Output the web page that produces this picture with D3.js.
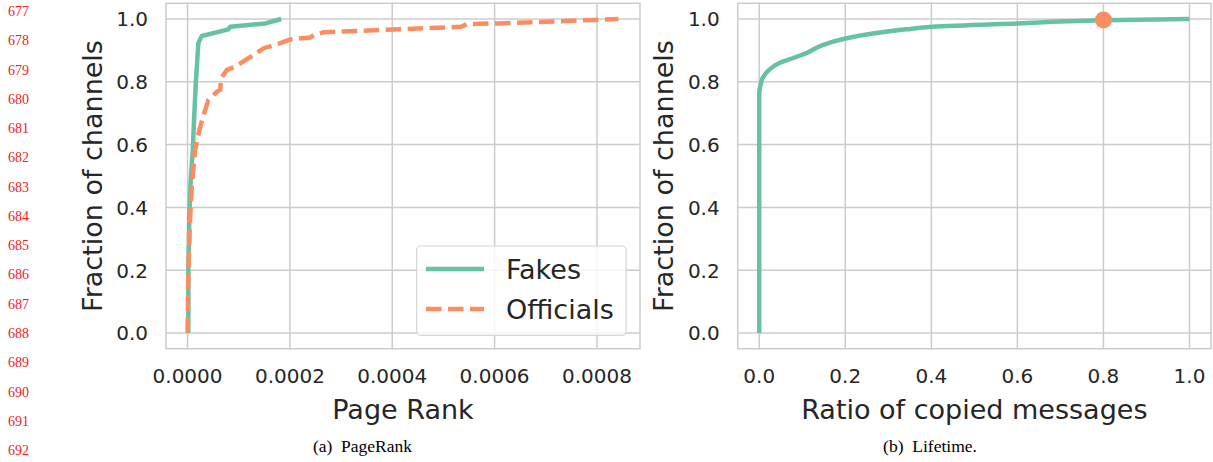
<!DOCTYPE html>
<html>
<head>
<meta charset="utf-8">
<script src="https://cdn.jsdelivr.net/npm/d3@7"></script>
<style>
  html, body { margin: 0; padding: 0; background: #ffffff; }
  svg { display: block; }
</style>
</head>
<body>
<svg id="chart" width="1213" height="462"></svg>
<script>
// ---------- DATA ----------
const seriesNames = ["Fakes", "Officials"];

// (a) PageRank CDF
const fakesPageRank = [0.0000016, 0.0000016, 0.0000035, 0.0000055, 0.0000102, 0.0000127, 0.0000161, 0.0000212, 0.0000278, 0.00008, 0.0000833, 0.000152, 0.000183];
const fakesFraction = [0, 0.2, 0.37, 0.466, 0.583, 0.678, 0.796, 0.924, 0.946, 0.967, 0.975, 0.986, 1.0];

const officialsPageRank = [0, 0.0000016, 0.0000049, 0.0000082, 0.0000147, 0.0000231, 0.0000343, 0.0000408, 0.0000573, 0.0000637, 0.0000657, 0.0000769, 0.0000931, 0.000119, 0.000149, 0.000181, 0.000201, 0.00024, 0.000247, 0.000266, 0.000534, 0.000547, 0.000606, 0.000796, 0.000842];
const officialsFraction = [0, 0.2, 0.36, 0.466, 0.583, 0.646, 0.71, 0.742, 0.768, 0.774, 0.811, 0.838, 0.848, 0.875, 0.907, 0.923, 0.935, 0.941, 0.949, 0.958, 0.975, 0.984, 0.986, 0.997, 1.0];

// (b) Ratio of copied messages CDF
const copiedRatio    = [0, 0, 0.004, 0.0077, 0.023, 0.047, 0.077, 0.109, 0.147, 0.2, 0.264, 0.341, 0.403, 0.6, 0.8, 1.0];
const copiedFraction = [0, 0.763, 0.795, 0.811, 0.838, 0.86, 0.875, 0.891, 0.917, 0.938, 0.954, 0.967, 0.975, 0.986, 0.996, 1.0];

const markerPoint = { x: 0.8, y: 0.997 };

const yTicks = [0, 0.2, 0.4, 0.6, 0.8, 1.0];
const xTicksPR = [0, 0.0002, 0.0004, 0.0006, 0.0008];
const xTicksRatio = [0, 0.2, 0.4, 0.6, 0.8, 1.0];

const lineNumbers = d3.range(677, 693);
const captions = ["(a)\u2002PageRank", "(b)\u2002Lifetime."];

// ---------- STYLE ----------
const GREEN = "#66c2a5", ORANGE = "#fc8d62";
const GRID = "#cccccc", TEXT = "#262626";
const SANS = "'DejaVu Sans', sans-serif";
const SERIF = "'Liberation Serif', 'Times New Roman', serif";
const LW = 4.5, DASH = "15.5,6.5";

const svg = d3.select("#chart");

const plotTop = 3.3, plotBottom = 348.7;
const panels = [
  { left: 166, right: 640 },
  { left: 737.7, right: 1211 }
];

function pad(lo, hi) { const r = hi - lo; return [lo - 0.05 * r, hi + 0.05 * r]; }

const yScale = d3.scaleLinear().domain(pad(0, 1)).range([plotBottom, plotTop]);

const prMax = d3.max(officialsPageRank.concat(fakesPageRank));
const xPR = d3.scaleLinear().domain(pad(0, prMax)).range([panels[0].left, panels[0].right]);
const xRatio = d3.scaleLinear().domain(pad(0, 1)).range([panels[1].left, panels[1].right]);

function drawPanel(x, ticksX, fmtX, xLabel, labelX) {
  const p = { left: x.range()[0], right: x.range()[1] };
  const g = svg.append("g");
  g.selectAll(".vg").data(ticksX).enter().append("line")
    .attr("x1", d => x(d)).attr("x2", d => x(d))
    .attr("y1", plotTop).attr("y2", plotBottom)
    .attr("stroke", GRID).attr("stroke-width", 1.5);
  g.selectAll(".hg").data(yTicks).enter().append("line")
    .attr("x1", p.left).attr("x2", p.right)
    .attr("y1", d => yScale(d)).attr("y2", d => yScale(d))
    .attr("stroke", GRID).attr("stroke-width", 1.5);
  g.append("rect").attr("x", p.left).attr("y", plotTop)
    .attr("width", p.right - p.left).attr("height", plotBottom - plotTop)
    .attr("fill", "none").attr("stroke", GRID).attr("stroke-width", 1.5);
  g.selectAll(".yt").data(yTicks).enter().append("text")
    .attr("x", p.left - 18).attr("y", d => yScale(d) + 7.3)
    .attr("text-anchor", "end").attr("font-family", SANS).attr("font-size", 20)
    .attr("fill", TEXT).text(d => d3.format(".1f")(d));
  g.selectAll(".xt").data(ticksX).enter().append("text")
    .attr("x", d => x(d)).attr("y", 383)
    .attr("text-anchor", "middle").attr("font-family", SANS).attr("font-size", 20)
    .attr("fill", TEXT).text(d => fmtX(d));
  g.append("text").attr("x", (p.left + p.right) / 2).attr("y", 419)
    .attr("text-anchor", "middle").attr("font-family", SANS).attr("font-size", 27)
    .attr("fill", TEXT).text(xLabel);
  g.append("text")
    .attr("transform", `translate(${labelX},${(plotTop + plotBottom) / 2}) rotate(-90)`)
    .attr("text-anchor", "middle").attr("font-family", SANS).attr("font-size", 27)
    .attr("fill", TEXT).text("Fraction of channels");
  return g;
}

const gA = drawPanel(xPR, xTicksPR, d3.format(".4f"), "Page Rank", 101.5);
const gB = drawPanel(xRatio, xTicksRatio, d3.format(".1f"), "Ratio of copied messages", 673);

const lineA = d3.line().x(d => xPR(d[0])).y(d => yScale(d[1]));
gA.append("path").datum(d3.zip(fakesPageRank, fakesFraction))
  .attr("d", lineA).attr("fill", "none").attr("stroke", GREEN)
  .attr("stroke-width", LW).attr("stroke-linejoin", "round");
gA.append("path").datum(d3.zip(officialsPageRank, officialsFraction))
  .attr("d", lineA).attr("fill", "none").attr("stroke", ORANGE)
  .attr("stroke-width", LW).attr("stroke-dasharray", DASH);

const leg = gA.append("g");
leg.append("rect").attr("x", 416.7).attr("y", 246).attr("width", 209.3).attr("height", 89.3)
  .attr("rx", 4).attr("fill", "#ffffff").attr("fill-opacity", 0.8)
  .attr("stroke", "#d6d6d6").attr("stroke-width", 1.2);
const legRows = [
  { name: seriesNames[0], color: GREEN, dash: null, y: 269 },
  { name: seriesNames[1], color: ORANGE, dash: DASH, y: 309 }
];
legRows.forEach(r => {
  leg.append("line").attr("x1", 426).attr("x2", 484).attr("y1", r.y).attr("y2", r.y)
    .attr("stroke", r.color).attr("stroke-width", LW)
    .attr("stroke-dasharray", r.dash);
  leg.append("text").attr("x", 506).attr("y", r.y + 9.5)
    .attr("font-family", SANS).attr("font-size", 27).attr("fill", TEXT).text(r.name);
});

const lineB = d3.line().x(d => xRatio(d[0])).y(d => yScale(d[1])).curve(d3.curveMonotoneY);
gB.append("path").datum(d3.zip(copiedRatio, copiedFraction))
  .attr("d", lineB).attr("fill", "none").attr("stroke", GREEN)
  .attr("stroke-width", LW).attr("stroke-linejoin", "round");
gB.append("circle").attr("cx", xRatio(markerPoint.x)).attr("cy", yScale(markerPoint.y))
  .attr("r", 8.5).attr("fill", ORANGE);

svg.selectAll(".ln").data(lineNumbers).enter().append("text")
  .attr("x", 8).attr("y", (d, i) => 16 + i * 29.27)
  .attr("font-family", SERIF).attr("font-size", 14).attr("fill", "#ee2222")
  .text(d => d);

svg.append("text").attr("x", 362.5).attr("y", 451.5).attr("text-anchor", "middle")
  .attr("font-family", SERIF).attr("font-size", 17.5).attr("fill", "#000").text(captions[0]);
svg.append("text").attr("x", 930).attr("y", 451.5).attr("text-anchor", "middle")
  .attr("font-family", SERIF).attr("font-size", 17.5).attr("fill", "#000").text(captions[1]);
</script>
</body>
</html>
